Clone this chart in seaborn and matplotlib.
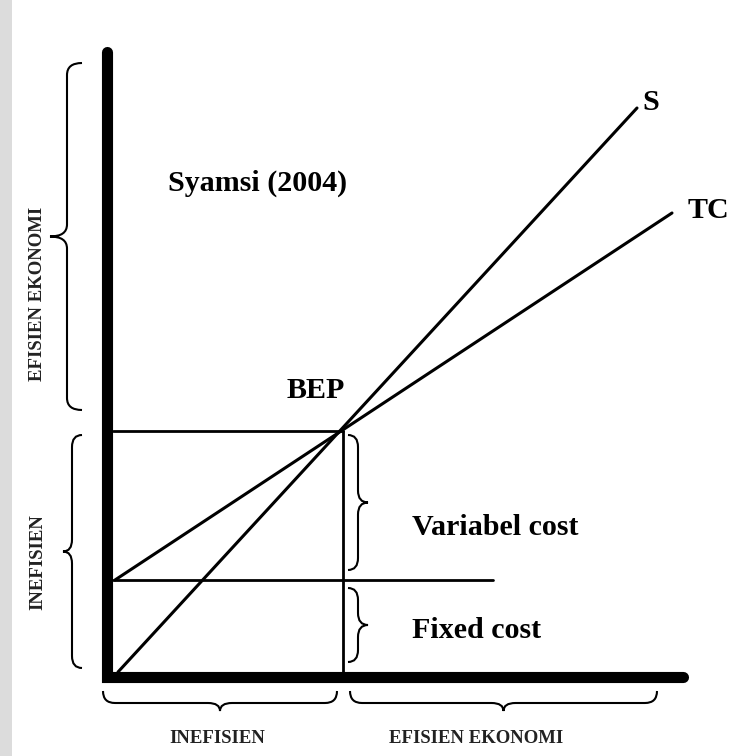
import numpy as np
import pandas as pd
import matplotlib
matplotlib.use("Agg")
import matplotlib.pyplot as plt
from matplotlib.path import Path
from matplotlib.patches import PathPatch
import seaborn as sns

# Break-even diagram, units measured from the origin (1 unit ~ 1 px)
line_names = ["S", "TC"]
sales_x = [11, 530]      # S: sales revenue
sales_y = [5, 569]
tc_x = [8, 565]          # TC: total cost
tc_y = [97, 464]
bep_q, bep_v = 236, 246  # break-even point
fixed_cost = 97
fixed_cost_end = 386
x_axis_len, y_axis_len = 576, 625

# brace spans (start, end) along the side they sit on
left_spans = [(267, 614), (9, 242)]
left_labels = ["EFISIEN EKONOMI", "INEFISIEN"]
bottom_spans = [(-4, 230), (243, 550)]
bottom_labels = ["INEFISIEN", "EFISIEN EKONOMI"]
cost_spans = [(107, 242), (15, 89)]
cost_labels = ["Variabel cost", "Fixed cost"]

sns.set_style("white")
plt.rcParams["font.family"] = ["Liberation Serif", "DejaVu Serif"]


def brace(ax, p0, p1, normal, spine, tip, r=12, lw=1.5):
    p0, p1, n = np.array(p0, float), np.array(p1, float), np.array(normal, float)
    L = np.linalg.norm(p1 - p0)
    u = (p1 - p0) / L
    r = min(r, L / 4)
    m = L / 2
    pts = [(0, 0), (0, spine), (r, spine), (m - r, spine), (m, spine), (m, tip),
           (m, spine), (m + r, spine), (L - r, spine), (L, spine), (L, 0)]
    codes = [Path.MOVETO, Path.CURVE3, Path.CURVE3, Path.LINETO, Path.CURVE3, Path.CURVE3,
             Path.CURVE3, Path.CURVE3, Path.LINETO, Path.CURVE3, Path.CURVE3]
    verts = [p0 + t * u + d * n for t, d in pts]
    ax.add_patch(PathPatch(Path(verts, codes), fill=False, lw=lw, color="black"))


fig = plt.figure(figsize=(7.55, 7.56), dpi=100)
ax = fig.add_axes([0, 0, 1, 1])
ax.set_xlim(-107, 648)
ax.set_ylim(-79, 677)
ax.axis("off")

# faint strip at the left edge of the scan
ax.axvspan(-107, -95, color="#dcdcdc", lw=0)

# S and TC lines
lines = pd.DataFrame({
    "q": sales_x + tc_x,
    "value": sales_y + tc_y,
    "line": [line_names[0]] * 2 + [line_names[1]] * 2,
})
sns.lineplot(data=lines, x="q", y="value", hue="line", palette=["black", "black"],
             estimator=None, sort=False, legend=False, lw=2.2, ax=ax)

# guide lines to the break-even point and fixed cost
ax.plot([6, bep_q], [bep_v, bep_v], color="black", lw=2.0)
ax.plot([bep_q, bep_q], [0, bep_v], color="black", lw=2.0)
ax.plot([6, fixed_cost_end], [fixed_cost, fixed_cost], color="black", lw=2.0)

# thick axes
ax.plot([0, 0, x_axis_len], [y_axis_len, 0, 0], color="black", lw=8,
        solid_capstyle="round", solid_joinstyle="miter")

# braces
brace(ax, (-25, left_spans[0][0]), (-25, left_spans[0][1]), (-1, 0), 15, 32)
brace(ax, (-25, left_spans[1][0]), (-25, left_spans[1][1]), (-1, 0), 10, 19)
for a, b in bottom_spans:
    brace(ax, (a, -14), (b, -14), (0, -1), 12, 20)
for a, b in cost_spans:
    brace(ax, (241, a), (241, b), (1, 0), 10, 20)

big = dict(fontsize=21.6, fontweight="bold", color="black")
small = dict(fontsize=13.5, fontweight="bold", color="#222222")

ax.text(535, 567, line_names[0], ha="left", va="baseline", **big)
ax.text(581, 459, line_names[1], ha="left", va="baseline", **big)
ax.text(180, 279, "BEP", ha="left", va="baseline", **big)
ax.text(61, 486, "Syamsi (2004)", ha="left", va="baseline", **big)
ax.text(305, 142, cost_labels[0], ha="left", va="baseline", **big)
ax.text(305, 39, cost_labels[1], ha="left", va="baseline", **big)

ax.text(-69, 383, left_labels[0], rotation=90, ha="center", va="center", **small)
ax.text(-69, 115, left_labels[1], rotation=90, ha="center", va="center", **small)
ax.text(110, -66, bottom_labels[0], ha="center", va="baseline", **small)
ax.text(369, -66, bottom_labels[1], ha="center", va="baseline", **small)

fig.savefig("out.png", dpi=100, facecolor="white")
